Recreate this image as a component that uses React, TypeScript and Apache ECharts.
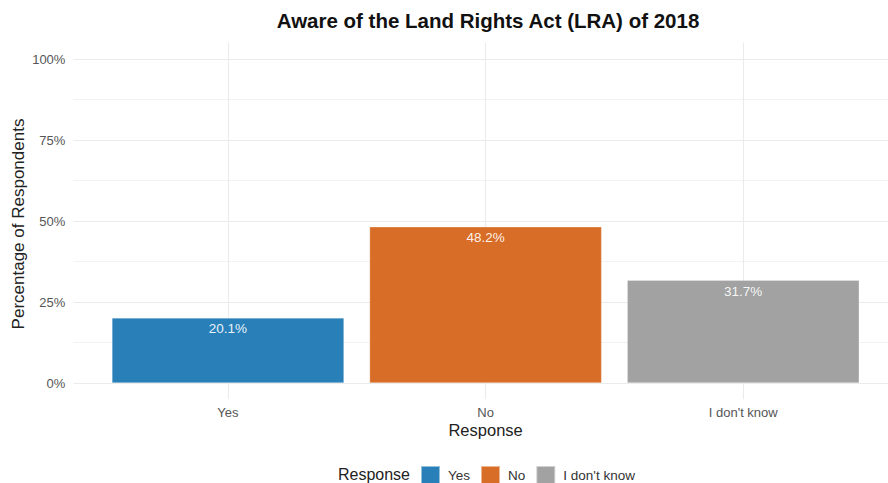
import React, { useEffect, useRef } from "react";
import * as echarts from "echarts";

const categories = ["Yes", "No", "I don't know"];
const values = [20.1, 48.2, 31.7];
const colors = ["#2980b9", "#d86d27", "#a2a2a2"];
const yTicks = [0, 25, 50, 75, 100];
const yMinorTicks = [12.5, 37.5, 62.5, 87.5];
const xPositions = [1, 2, 3];
const titleText = "Aware of the Land Rights Act (LRA) of 2018";
const xTitle = "Response";
const yTitle = "Percentage of Respondents";
const legendTitle = "Response";

const FONT = "Liberation Sans, Arial, Helvetica, sans-serif";

export default function App() {
  const ref = useRef<HTMLDivElement>(null);
  useEffect(() => {
    document.body.style.margin = "0";
    if (!ref.current) return;
    const chart = echarts.init(ref.current, null, { renderer: "svg" });
    const gridLine = { show: true, lineStyle: { color: "#ebebeb", width: 1.1 } };
    chart.setOption({
      animation: false,
      textStyle: { fontFamily: FONT },
      grid: { left: 73.4, right: 0, top: 42.8, bottom: 83.8, containLabel: false },
      xAxis: [
        {
          type: "value",
          min: 0.4,
          max: 3.562,
          axisLine: { show: false },
          axisTick: { show: false, customValues: xPositions },
          axisLabel: {
            customValues: xPositions,
            formatter: (v: number) => categories[Math.round(v) - 1] ?? "",
            color: "#555555",
            fontSize: 13,
            margin: 7,
            fontFamily: FONT,
          },
          splitLine: gridLine,
        },
      ],
      yAxis: [
        {
          type: "value",
          min: -5,
          max: 105,
          axisLine: { show: false },
          axisTick: { show: false, customValues: yTicks },
          axisLabel: {
            customValues: yTicks,
            formatter: (v: number) => `${v}%`,
            color: "#555555",
            fontSize: 13,
            margin: 8,
            fontFamily: FONT,
          },
          splitLine: gridLine,
        },
        {
          type: "value",
          min: -5,
          max: 105,
          position: "left",
          axisLine: { show: false },
          axisTick: { show: false, customValues: yMinorTicks },
          axisLabel: { show: false, customValues: yMinorTicks },
          splitLine: { show: true, lineStyle: { color: "#f0f0f0", width: 0.8 } },
        },
      ],
      legend: {
        left: 420,
        top: 465,
        icon: "rect",
        itemWidth: 19,
        itemHeight: 18,
        itemGap: 10,
        padding: 0,
        textStyle: { color: "#333333", fontSize: 13.5, fontFamily: FONT, padding: [0, 0, 0, 3] },
        data: categories,
      },
      graphic: [
        {
          type: "text",
          x: 488,
          y: 20,
          style: {
            text: titleText,
            align: "center",
            verticalAlign: "middle",
            font: `bold 20.5px ${FONT}`,
            fill: "#111111",
          },
        },
        {
          type: "text",
          x: 485.6,
          y: 430,
          style: {
            text: xTitle,
            align: "center",
            verticalAlign: "middle",
            font: `16.5px ${FONT}`,
            fill: "#222222",
          },
        },
        {
          type: "text",
          x: 18,
          y: 224,
          rotation: Math.PI / 2,
          style: {
            text: yTitle,
            align: "center",
            verticalAlign: "middle",
            font: `17px ${FONT}`,
            fill: "#222222",
          },
        },
        {
          type: "text",
          x: 410,
          y: 474,
          style: {
            text: legendTitle,
            align: "right",
            verticalAlign: "middle",
            font: `16px ${FONT}`,
            fill: "#222222",
          },
        },
      ],
      series: categories.map((c, i) => ({
        name: c,
        type: "bar",
        stack: "all",
        barWidth: 232,
        data: [[xPositions[i], values[i]]],
        itemStyle: { color: colors[i], borderColor: "rgba(255,255,255,0.5)", borderWidth: 0.5 },
        label: {
          show: true,
          position: "insideTop",
          distance: 4,
          formatter: () => `${values[i].toFixed(1)}%`,
          color: "rgba(255,255,255,0.92)",
          fontSize: 13.5,
          fontFamily: FONT,
        },
      })),
    });
    return () => chart.dispose();
  }, []);
  return <div ref={ref} style={{ width: 888, height: 483 }} />;
}
